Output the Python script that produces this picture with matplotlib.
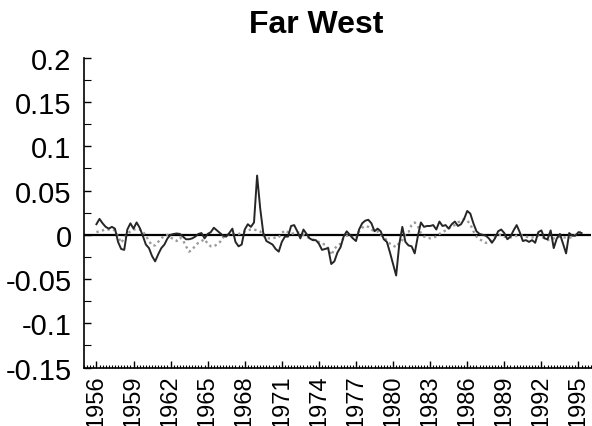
import numpy as np
import matplotlib
matplotlib.use("Agg")
import matplotlib.pyplot as plt
from matplotlib.ticker import MultipleLocator

plt.rcParams['font.family'] = ['Liberation Sans', 'DejaVu Sans']

# quarterly series, 1956Q1 .. 1995Q2
start_year = 1956
actual = [
    0.012, 0.018, 0.013, 0.009, 0.007, 0.009, 0.007, -0.008, -0.016, -0.017,
    0.006, 0.013, 0.007, 0.014, 0.008, -0.001, -0.011, -0.015, -0.024, -0.030,
    -0.022, -0.015, -0.011, -0.004, 0.000, 0.001, 0.0015, 0.001, -0.002, -0.005,
    -0.005, -0.004, -0.002, 0.001, 0.002, -0.004, 0.001, 0.003, 0.008, 0.005,
    0.002, -0.001, -0.002, 0.002, 0.007, -0.008, -0.013, -0.011, 0.006, 0.012,
    0.009, 0.014, 0.067, 0.030, 0.002, -0.007, -0.009, -0.011, -0.016, -0.019,
    -0.008, -0.002, -0.002, 0.010, 0.011, 0.004, -0.004, 0.006, 0.001, -0.004,
    -0.006, -0.006, -0.010, -0.017, -0.016, -0.015, -0.033, -0.030, -0.020, -0.014,
    -0.002, 0.004, 0.000, -0.004, -0.007, 0.006, 0.013, 0.016, 0.017, 0.013,
    0.004, 0.007, 0.004, -0.005, -0.008, -0.020, -0.033, -0.046, -0.011, 0.009,
    -0.008, -0.012, -0.013, -0.021, -0.002, 0.014, 0.009, 0.010, 0.010, 0.011,
    0.006, 0.015, 0.010, 0.011, 0.007, 0.012, 0.015, 0.010, 0.012, 0.018,
    0.027, 0.024, 0.013, 0.004, 0.001, 0.000, -0.001, -0.004, -0.009, -0.004,
    0.004, 0.006, 0.002, -0.005, -0.002, 0.005, 0.011, 0.003, -0.007, -0.006,
    -0.008, -0.006, -0.009, 0.003, 0.005, -0.004, -0.005, 0.005, -0.015, -0.004,
    0.001, -0.010, -0.021, 0.002, -0.001, -0.001, 0.003, 0.002,
]
fitted = [
    0.003, 0.004, 0.005, 0.006, 0.006, 0.006, 0.005, -0.002, -0.009, -0.004,
    0.001, 0.004, 0.006, 0.006, 0.006, 0.004, -0.001, -0.007, -0.012, -0.012,
    -0.008, -0.004, -0.001, 0.000, -0.003, -0.005, -0.007, -0.003, -0.006, -0.013,
    -0.019, -0.017, -0.012, -0.009, -0.007, -0.005, -0.010, -0.013, -0.013, -0.011,
    -0.008, -0.003, -0.001, 0.001, 0.000, 0.001, 0.001, 0.002, 0.004, 0.005,
    0.006, 0.006, 0.005, 0.004, -0.001, -0.004, -0.004, -0.004, -0.003, -0.003,
    0.002, 0.005, 0.003, 0.001, 0.002, 0.003, 0.002, 0.000, -0.002, -0.004,
    -0.005, -0.007, -0.008, -0.010, -0.011, -0.015, -0.023, -0.016, -0.012, -0.010,
    -0.003, -0.001, -0.001, -0.003, -0.004, 0.004, 0.008, 0.010, 0.009, 0.006,
    0.004, 0.004, 0.000, -0.003, -0.006, -0.010, -0.012, -0.014, -0.009, -0.006,
    0.001, 0.003, 0.011, 0.014, 0.010, 0.002, -0.002, -0.003, -0.004, -0.003,
    -0.002, 0.001, 0.003, 0.005, 0.007, 0.010, 0.011, 0.014, 0.016, 0.018,
    0.016, 0.012, 0.004, -0.002, -0.005, -0.007, -0.009, -0.009, -0.006, -0.002,
    0.000, 0.000, -0.002, -0.003, -0.003, -0.002, -0.001, 0.000, -0.001, -0.002,
    -0.003, -0.003, -0.002, -0.001, -0.002, -0.004, -0.006, -0.005, -0.004, -0.003,
    -0.002, -0.003, -0.003, -0.003, -0.003, 0.000, 0.002, 0.004,
]
year_ticks = list(range(1956, 1996, 3))
y_ticks = [-0.15, -0.1, -0.05, 0, 0.05, 0.1, 0.15, 0.2]
y_labels = ['-0.15', '-0.1', '-0.05', '0', '0.05', '0.1', '0.15', '0.2']

x = start_year + np.arange(len(actual)) / 4.0

fig = plt.figure(figsize=(5.92, 4.27), dpi=100)
ax = fig.add_axes([0.142, 0.137, 0.856, 0.725])

ax.axhline(0, color='black', lw=1.6, zorder=1)
ax.plot(x, fitted, color='#9a9a9a', lw=1.7, ls=(0, (1, 1.4)), zorder=2)
ax.plot(x, actual, color='#262626', lw=1.4, zorder=3)

ax.set_xlim(1955, 1996)
ax.set_ylim(-0.15, 0.2)
ax.set_xticks(year_ticks)
ax.set_xticklabels([str(y) for y in year_ticks], rotation=90, fontsize=17)
ax.xaxis.set_minor_locator(MultipleLocator(0.25))
ax.set_yticks(y_ticks)
ax.set_yticklabels(y_labels, fontsize=21)
ax.yaxis.set_minor_locator(MultipleLocator(0.025))

ax.tick_params(axis='both', which='major', direction='in', length=5, width=1)
ax.tick_params(axis='x', which='minor', direction='in', length=2.5, width=0.8)
ax.tick_params(axis='y', which='minor', direction='in', length=5, width=0.8)
ax.tick_params(axis='y', pad=9)
ax.tick_params(axis='x', pad=5)

ax.spines['top'].set_visible(False)
ax.spines['right'].set_visible(False)
ax.spines['left'].set_linewidth(1.2)
ax.spines['bottom'].set_linewidth(1.2)

fig.text(0.534, 0.942, 'Far West', ha='center', va='center', fontsize=23, fontweight='bold')

fig.savefig('out.png', dpi=100)
